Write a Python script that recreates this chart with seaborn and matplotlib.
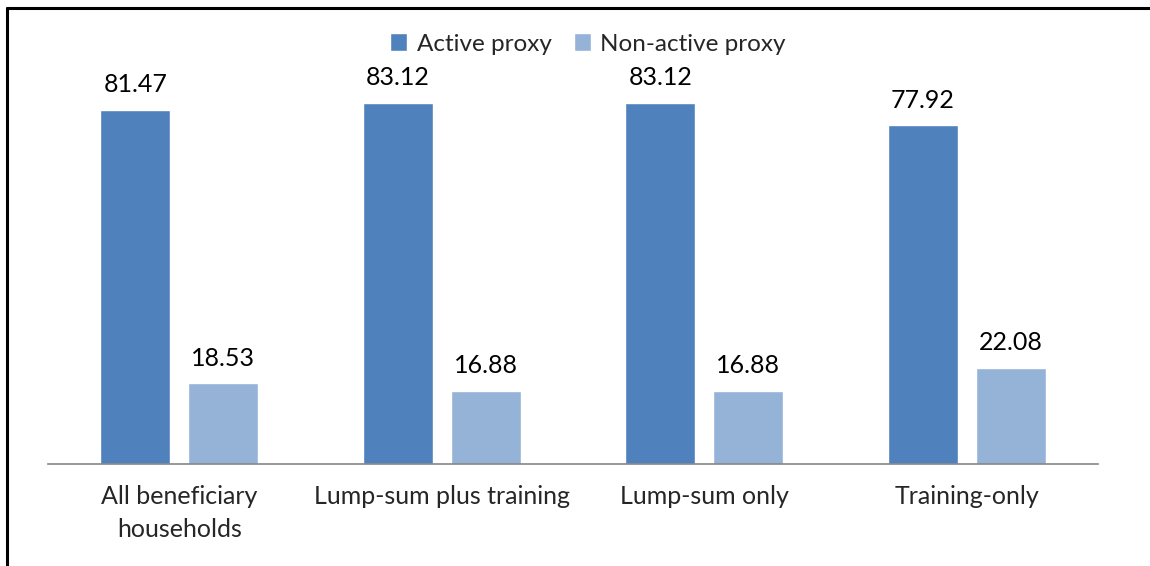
import pandas as pd
import seaborn as sns
import matplotlib.pyplot as plt
from matplotlib.lines import Line2D

# Chart data
categories = ["All beneficiary\nhouseholds", "Lump-sum plus training", "Lump-sum only", "Training-only"]
series_names = ["Active proxy", "Non-active proxy"]
active = [81.47, 83.12, 83.12, 77.92]
non_active = [18.53, 16.88, 16.88, 22.08]
colors = ["#4F81BD", "#95B3D7"]

df = pd.DataFrame({
    "category": categories * 2,
    "series": [series_names[0]] * 4 + [series_names[1]] * 4,
    "value": active + non_active,
})

sns.set_style("white")
plt.rcParams['font.family'] = ['Lato', 'DejaVu Sans']

W, H = 1150, 566
fig = plt.figure(figsize=(W / 100, H / 100), dpi=100)
ax = fig.add_axes([48 / W, (H - 464) / H, (1098 - 48) / W, (464 - 73) / H])

sns.barplot(data=df, x="category", y="value", hue="series", palette=colors,
            width=0.67, gap=0.2, saturation=1, ax=ax, errorbar=None)

for cont in ax.containers:
    ax.bar_label(cont, fmt="%.2f", padding=10, fontsize=18, color="#000000")

ax.set_ylim(0, 90)
ax.set_xlabel("")
ax.set_ylabel("")
ax.set_yticks([])
ax.tick_params(axis="x", length=0, pad=15, labelsize=18)
for lbl in ax.get_xticklabels():
    lbl.set_linespacing(1.55)
    lbl.set_verticalalignment("top")
for s in ["top", "right", "left"]:
    ax.spines[s].set_visible(False)
ax.spines["bottom"].set_color("#868686")
ax.spines["bottom"].set_linewidth(1.2)

leg = ax.legend(loc="center", bbox_to_anchor=(588 / W, 1 - 44 / H), bbox_transform=fig.transFigure,
                ncol=2, frameon=False, fontsize=17.5, handlelength=0.7, handleheight=0.7,
                handletextpad=0.4, columnspacing=0.9)

# outer border (top and left edges)
fig.add_artist(Line2D([7 / W, 1], [1 - 8 / H, 1 - 8 / H], color="black", lw=2.2, transform=fig.transFigure))
fig.add_artist(Line2D([7 / W, 7 / W], [0, 1 - 8 / H], color="black", lw=2.2, transform=fig.transFigure))

fig.savefig("out.png", dpi=100)
